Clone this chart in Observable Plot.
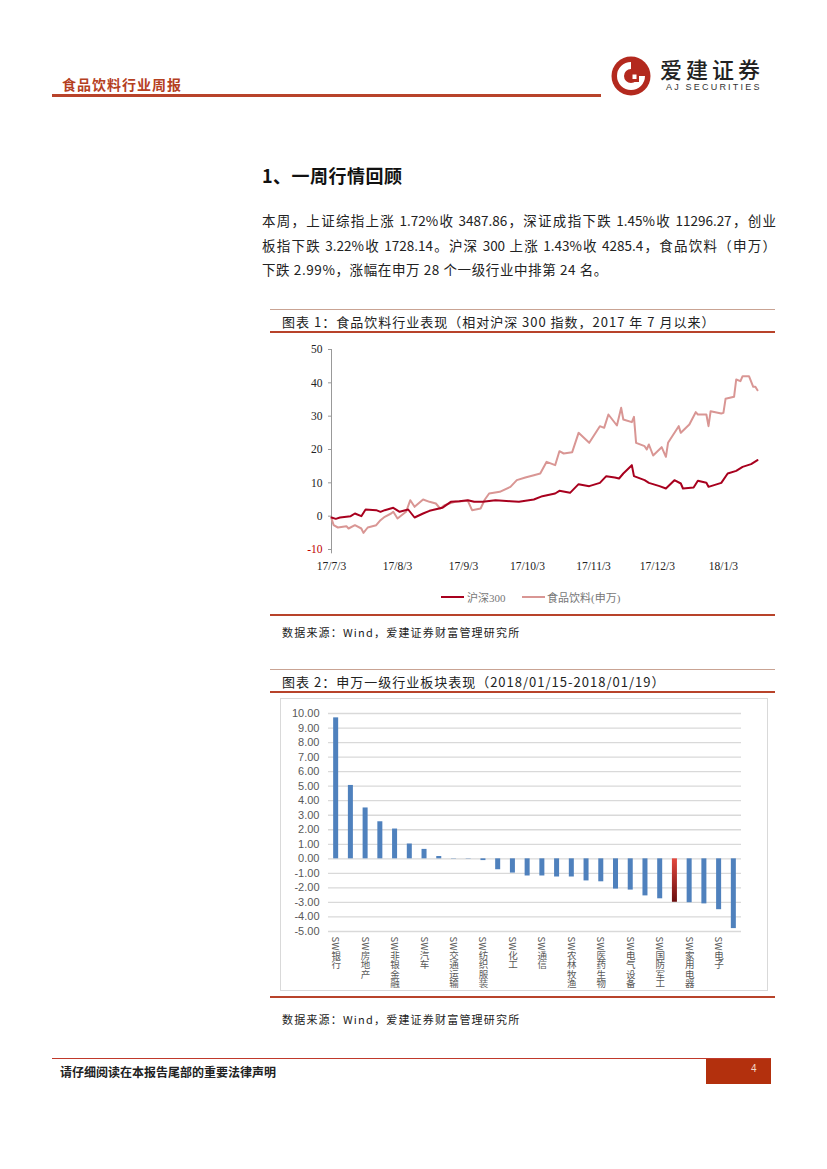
<!DOCTYPE html>
<html><head><meta charset="utf-8">
<script src="https://cdn.jsdelivr.net/npm/d3@7"></script>
<script src="https://cdn.jsdelivr.net/npm/@observablehq/plot@0.6"></script>
<style>
body{margin:0;background:#fff;}
#page{position:relative;width:827px;height:1169px;overflow:hidden;font-family:"Noto Sans CJK SC",sans-serif;color:#222;}
.abs{position:absolute;}
.hdr{left:62px;top:74px;font-size:14px;font-weight:700;color:#B5401F;letter-spacing:1px;}
.hbar{left:52px;top:94px;width:549px;height:3px;background:#B8432A;}
.sec{left:262px;top:162px;font-size:18px;font-weight:700;color:#111;letter-spacing:0.5px;}
.para{left:262px;width:514px;font-size:13.5px;color:#222;line-height:20px;white-space:nowrap;}
.just{text-align:justify;text-align-last:justify;white-space:normal;}
.thin{left:270px;width:505px;height:1px;background:#C9A393;}
.thick{left:270px;width:505px;height:2px;background:#B8432A;}
.ctitle{left:282px;font-size:13px;letter-spacing:1px;color:#222;}
.src{left:282px;font-size:11px;letter-spacing:1.2px;color:#222;}
.leg{font-family:"Liberation Serif","Noto Sans CJK SC",serif;font-size:11px;color:#777;}
svg text.vlabel{writing-mode:vertical-rl;}
</style></head>
<body><div id="page">
<div class="abs hdr">食品饮料行业周报</div>
<div class="abs hbar"></div>
<svg class="abs" style="left:610px;top:55px" width="42" height="42" viewBox="0 0 42 42">
  <circle cx="21" cy="21" r="19.5" fill="#B3291E"/>
  <path d="M21 7 A14 14 0 1 0 35 21 L28 21 A7 7 0 1 1 21 14 Z" fill="#fff"/>
  <rect x="19" y="17" width="10" height="10" fill="#B3291E"/>
  <rect x="22.5" y="19.5" width="4" height="4.5" fill="#fff"/>
</svg>
<div class="abs" style="left:660px;top:56px;font-size:22px;line-height:24px;letter-spacing:4px;color:#222;font-weight:500;">爱建证券</div>
<div class="abs" style="left:666px;top:82px;font-size:9px;line-height:11px;letter-spacing:2.2px;color:#333;font-family:'Liberation Sans',sans-serif;">AJ SECURITIES</div>

<div class="abs sec">1、一周行情回顾</div>
<div class="abs para just" style="top:210px;">本周，上证综指上涨 1.72%收 3487.86，深证成指下跌 1.45%收 11296.27，创业</div>
<div class="abs para just" style="top:235px;">板指下跌 3.22%收 1728.14。沪深 300 上涨 1.43%收 4285.4，食品饮料（申万）</div>
<div class="abs para" style="top:259px;letter-spacing:0.6px;">下跌 2.99%，涨幅在申万 28 个一级行业中排第 24 名。</div>

<div class="abs thin" style="top:309px;"></div>
<div class="abs ctitle" style="top:312px;">图表 1：食品饮料行业表现（相对沪深 300 指数，2017 年 7 月以来）</div>
<div class="abs thick" style="top:331px;"></div>
<div id="c1" class="abs" style="left:270px;top:340px;"></div>
<div class="abs" style="left:441px;top:596px;width:23px;height:2px;background:#A8001E;"></div>
<div class="abs leg" style="left:467px;top:589px;">沪深300</div>
<div class="abs" style="left:522px;top:596px;width:23px;height:2px;background:#D99694;"></div>
<div class="abs leg" style="left:547px;top:589px;">食品饮料(申万)</div>
<div class="abs thick" style="top:614px;"></div>
<div class="abs src" style="top:624px;">数据来源：Wind，爱建证券财富管理研究所</div>

<div class="abs thin" style="top:669px;"></div>
<div class="abs ctitle" style="top:672px;">图表 2：申万一级行业板块表现（2018/01/15-2018/01/19）</div>
<div class="abs thick" style="top:691px;"></div>
<div id="c2" class="abs" style="left:280px;top:698px;border:1px solid #D9D9D9;width:486px;height:291px;"></div>
<div class="abs thick" style="top:996px;"></div>
<div class="abs src" style="top:1011px;">数据来源：Wind，爱建证券财富管理研究所</div>

<div class="abs" style="left:52px;top:1058px;width:719px;height:1px;background:#C0392B;"></div>
<div class="abs" style="left:60px;top:1063px;font-size:12px;font-weight:700;color:#222;">请仔细阅读在本报告尾部的重要法律声明</div>
<div class="abs" style="left:706px;top:1059px;width:65px;height:25px;background:#B3300D;"></div>
<div class="abs" style="left:751px;top:1063px;font-size:10px;color:#f3d9c8;font-family:'Liberation Sans',sans-serif;">4</div>
</div>
<script>
// ---- Chart 1 data ----
const hsDates = ["2017-07-03","2017-07-05","2017-07-07","2017-07-12","2017-07-14","2017-07-17","2017-07-19","2017-07-24","2017-07-26","2017-07-28","2017-08-01","2017-08-04","2017-08-08","2017-08-11","2017-08-15","2017-08-18","2017-08-24","2017-08-28","2017-09-01","2017-09-05","2017-09-08","2017-09-12","2017-09-18","2017-09-25","2017-09-29","2017-10-06","2017-10-10","2017-10-16","2017-10-18","2017-10-23","2017-10-27","2017-11-01","2017-11-06","2017-11-09","2017-11-13","2017-11-15","2017-11-17","2017-11-21","2017-11-22","2017-11-27","2017-11-29","2017-12-04","2017-12-07","2017-12-11","2017-12-14","2017-12-15","2017-12-20","2017-12-22","2017-12-26","2017-12-27","2018-01-02","2018-01-05","2018-01-09","2018-01-12","2018-01-16","2018-01-19"];
const hsValues = [-0.4,-0.8,-0.4,0,0.8,0,2.0,1.8,1.3,1.8,2.5,1.3,2.0,-0.4,0.8,1.6,2.5,4.3,4.5,4.8,4.3,4.3,4.8,4.5,4.3,5.0,6.0,6.8,7.6,7.0,9.6,9.0,10.0,12.0,11.6,11.3,12.8,15.3,12.0,10.8,10.0,9.0,8.3,10.8,9.8,8.3,8.6,10.6,10.0,8.8,10.0,12.8,13.6,14.8,15.6,16.8];
const fdDates = ["2017-07-03","2017-07-04","2017-07-06","2017-07-10","2017-07-11","2017-07-14","2017-07-17","2017-07-18","2017-07-20","2017-07-24","2017-07-26","2017-07-28","2017-07-31","2017-08-01","2017-08-03","2017-08-07","2017-08-09","2017-08-11","2017-08-15","2017-08-18","2017-08-21","2017-08-23","2017-08-25","2017-08-30","2017-09-05","2017-09-07","2017-09-11","2017-09-13","2017-09-15","2017-09-20","2017-09-25","2017-09-28","2017-10-02","2017-10-06","2017-10-09","2017-10-12","2017-10-16","2017-10-18","2017-10-20","2017-10-24","2017-10-27","2017-11-01","2017-11-06","2017-11-08","2017-11-10","2017-11-14","2017-11-16","2017-11-17","2017-11-21","2017-11-22","2017-11-23","2017-11-27","2017-11-28","2017-11-29","2017-12-01","2017-12-05","2017-12-07","2017-12-08","2017-12-13","2017-12-14","2017-12-18","2017-12-21","2017-12-22","2017-12-26","2017-12-27","2017-12-28","2018-01-02","2018-01-03","2018-01-04","2018-01-08","2018-01-09","2018-01-11","2018-01-12","2018-01-15","2018-01-17","2018-01-18","2018-01-19"];
const fdValues = [-0.7,-2.7,-3.4,-3.0,-3.7,-2.7,-3.7,-5.0,-3.4,-2.7,-1.2,-0.2,0.8,1.3,-0.7,1.3,4.8,2.8,5.0,4.3,3.8,2.3,3.3,4.3,4.6,1.8,2.3,5.0,6.8,7.3,8.8,10.8,11.6,12.3,12.8,16.3,15.3,19.5,18.8,19.2,25.0,22.0,27.0,26.5,30.5,27.2,32.5,29.0,28.2,29.8,22.0,21.0,20.0,21.5,18.2,20.7,17.8,22.0,27.0,25.0,27.5,31.2,30.5,30.5,27.0,31.5,30.8,31.0,35.2,35.8,41.0,40.5,42.0,42.0,38.8,38.8,37.8];
const c1YTicks = [-10,0,10,20,30,40,50];
const c1XTicks = ["2017-07-03","2017-08-03","2017-09-03","2017-10-03","2017-11-03","2017-12-03","2018-01-03"];

// ---- Chart 2 data ----
const industries = ["银行","钢铁","房地产","采掘","非银金融","建筑装饰","汽车","有色金属","交通运输","公用事业","纺织服装","建筑材料","化工","商业贸易","通信","轻工制造","农林牧渔","机械设备","医药生物","休闲服务","电气设备","综合","国防军工","食品饮料","家用电器","计算机","电子","传媒"];
const weeklyChange = [9.70,5.05,3.50,2.55,2.05,1.02,0.65,0.16,0.02,-0.02,-0.12,-0.75,-0.98,-1.18,-1.18,-1.25,-1.25,-1.52,-1.58,-2.08,-2.15,-2.55,-2.75,-2.99,-3.02,-3.10,-3.50,-4.80];
const highlight = "食品饮料";
const c2YTicks = [-5,-4,-3,-2,-1,0,1,2,3,4,5,6,7,8,9,10];

const hs = hsDates.map((d,i)=>({date:new Date(d), v:hsValues[i]}));
const fd = fdDates.map((d,i)=>({date:new Date(d), v:fdValues[i]}));
const xStart = new Date("2017-07-03"), xEnd = new Date("2018-01-19");
const fmt = d => `${String(d.getUTCFullYear()).slice(2)}/${d.getUTCMonth()+1}/${d.getUTCDate()}`;

const chart1 = Plot.plot({
  width:500, height:240, marginLeft:61, marginRight:13, marginTop:9, marginBottom:31,
  x:{type:"utc", domain:[xStart,xEnd], label:null},
  y:{domain:[-10,50], label:null},
  style:{fontFamily:"'Liberation Serif',serif", fontSize:"11.5px", background:"transparent", color:"#222"},
  marks:[
    Plot.ruleX([xStart], {y1:-11.3, y2:50, stroke:"#999", strokeWidth:1}),
    Plot.axisY({ticks:c1YTicks, tickSize:3, tickFormat:()=>null, stroke:"#999", label:null}),
    Plot.text(c1YTicks, {y:d=>d, frameAnchor:"left", dx:-9, textAnchor:"end", text:d=>String(d), fill:d=>d<0?"#C00000":"#222"}),
    Plot.axisX({ticks:c1XTicks.map(d=>new Date(d)), tickSize:0, tickPadding:12, tickFormat:fmt, label:null}),
    Plot.line(fd, {x:"date", y:"v", stroke:"#D99694", strokeWidth:2}),
    Plot.line(hs, {x:"date", y:"v", stroke:"#A8001E", strokeWidth:2})
  ]
});
document.getElementById("c1").appendChild(chart1);

const bars = industries.map((n,i)=>({name:n, v:weeklyChange[i]}));
const labeled = industries.filter((n,i)=>i%2===0);
const chart2 = Plot.plot({
  width:486, height:290, marginLeft:47, marginRight:26, marginTop:14, marginBottom:58,
  x:{domain:industries, paddingInner:0.66, paddingOuter:0.35, round:false, axis:null},
  y:{domain:[-5,10], axis:null},
  style:{fontFamily:"'Liberation Sans',sans-serif", fontSize:"11px", background:"transparent"},
  marks:[
    Plot.ruleY(c2YTicks, {stroke:"#D9D9D9", strokeWidth:1.3}),
    Plot.barY(bars.filter(d=>d.name!==highlight), {x:"name", y:"v", fill:"#4F81BD"}),
    Plot.barY(bars.filter(d=>d.name===highlight), {x:"name", y:"v", fill:"url(#redgrad)"}),
    Plot.text(c2YTicks, {y:d=>d, frameAnchor:"left", dx:-9, textAnchor:"end", text:d=>d.toFixed(2), fill:"#595959"}),
    Plot.text(labeled, {x:d=>d, frameAnchor:"bottom", dy:5, text:d=>"SW"+d, textAnchor:"start", fill:"#595959", fontSize:9.5, fontFamily:"'Noto Sans CJK SC',sans-serif"})
  ]
});
d3.select(chart2).insert("defs", ":first-child").html('<linearGradient id="redgrad" x1="0" y1="0" x2="0" y2="1"><stop offset="0" stop-color="#E4493F"/><stop offset="1" stop-color="#6A0E0E"/></linearGradient>');
d3.select(chart2).selectAll("text").filter(function(){ return (this.textContent||"").startsWith("SW"); })
  .classed("vlabel", true).attr("writing-mode","tb").style("writing-mode","vertical-rl").attr("text-anchor","start").attr("dy", null);
document.getElementById("c2").appendChild(chart2);
</script>
</body></html>
